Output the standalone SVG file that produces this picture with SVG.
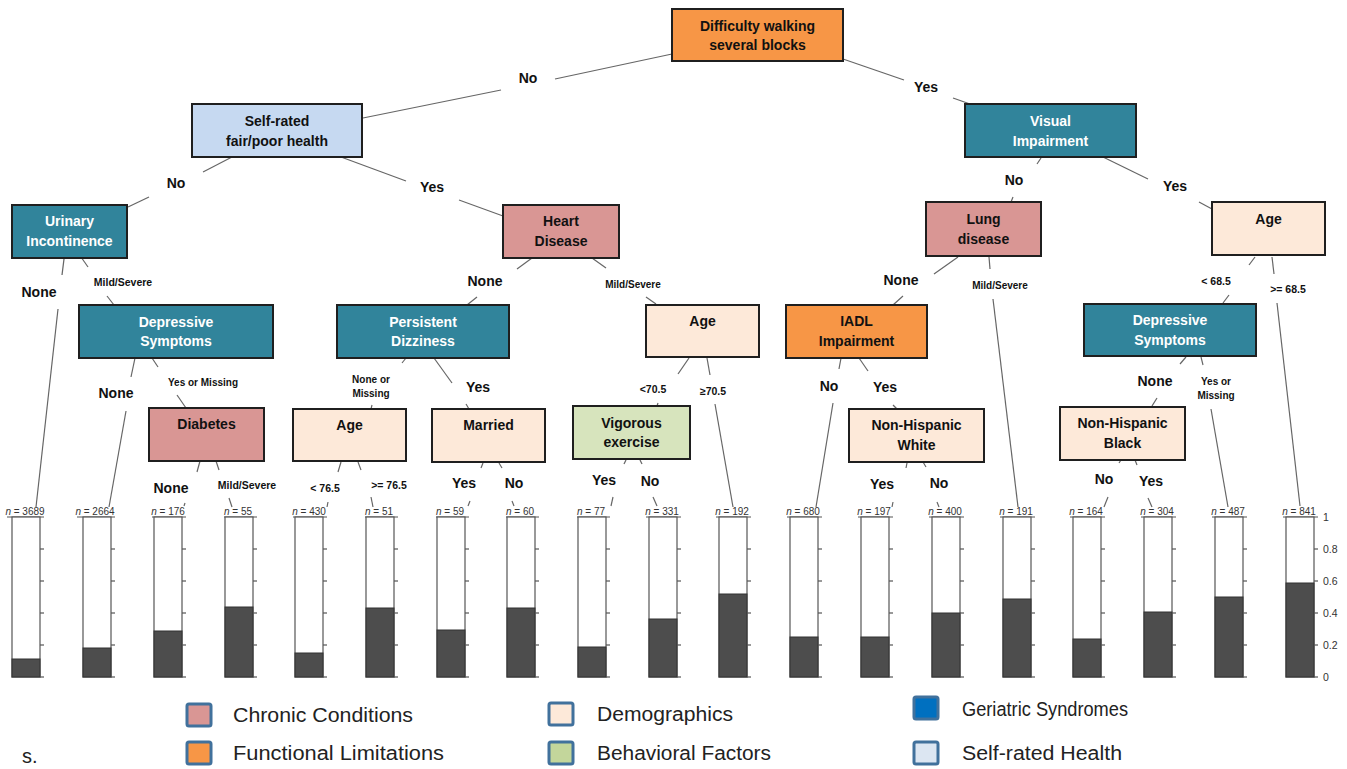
<svg xmlns="http://www.w3.org/2000/svg" width="1347" height="769" viewBox="0 0 1347 769">
<style>
.box{stroke:#1f1f1f;stroke-width:2}
.orange{fill:#F79646}.teal{fill:#31849B}.pink{fill:#D99694}.cream{fill:#FDE9D9}.sky{fill:#C6D9F1}.green{fill:#D7E4BD}
.nt{font-family:"Liberation Sans",Arial,sans-serif;font-weight:bold;font-size:14px;text-anchor:middle;fill:#111}
.wt{fill:#fff}
.el{font-family:"Liberation Sans",Arial,sans-serif;font-weight:bold;font-size:14px;text-anchor:middle;fill:#111}
.es{font-family:"Liberation Sans",Arial,sans-serif;font-weight:bold;font-size:10px;text-anchor:middle;fill:#111}
.em{font-family:"Liberation Sans",Arial,sans-serif;font-weight:bold;font-size:10.5px;text-anchor:middle;fill:#111}
.edge line{stroke:#666;stroke-width:1.2}
.nl{font-family:"Liberation Sans",Arial,sans-serif;font-size:10px;text-anchor:middle;fill:#333}
.bo{fill:#fff;stroke:#555;stroke-width:1.2}
.bd{fill:#4D4D4D;stroke:#333;stroke-width:1}
.tk{stroke:#555;stroke-width:1.2}
.ax{font-family:"Liberation Sans",Arial,sans-serif;font-size:10.5px;fill:#333}
.lg{stroke:#41719C;stroke-width:3}
.lt{font-family:"Liberation Sans",Arial,sans-serif;font-size:20px;fill:#222}
</style>

<g id="connectors" class="edge">
<line x1="672" y1="54" x2="555" y2="79"/><line x1="501" y1="90" x2="363" y2="118"/>
<line x1="843" y1="59" x2="904" y2="80"/><line x1="953" y1="98" x2="970" y2="104"/>
<line x1="232" y1="157" x2="203" y2="172"/><line x1="149" y1="197" x2="128" y2="207"/>
<line x1="341" y1="157" x2="406" y2="181"/><line x1="459" y1="200" x2="503" y2="216"/>
<line x1="1041" y1="158" x2="1037" y2="164"/><line x1="1013" y1="197" x2="1011" y2="202"/>
<line x1="1103" y1="157" x2="1148" y2="179"/><line x1="1199" y1="202" x2="1212" y2="209"/>
<line x1="64" y1="259" x2="62" y2="275"/><line x1="58" y1="309" x2="36" y2="507"/>
<line x1="81" y1="257" x2="88" y2="267"/><line x1="107" y1="296" x2="114" y2="305"/>
<line x1="135" y1="358" x2="131" y2="377"/><line x1="126" y1="411" x2="109" y2="507"/>
<line x1="152" y1="358" x2="158" y2="367"/><line x1="177" y1="395" x2="186" y2="408"/>
<line x1="200" y1="461" x2="197" y2="472"/><line x1="185" y1="503" x2="184" y2="506"/>
<line x1="216" y1="461" x2="219" y2="470"/><line x1="229" y1="498" x2="232" y2="507"/>
<line x1="406" y1="358" x2="402" y2="363"/><line x1="372" y1="405" x2="371" y2="409"/>
<line x1="434" y1="358" x2="452" y2="383"/><line x1="466" y1="404" x2="469" y2="409"/>
<line x1="341" y1="462" x2="338" y2="472"/><line x1="328" y1="502" x2="327" y2="507"/>
<line x1="358" y1="462" x2="361" y2="470"/><line x1="371" y1="497" x2="373" y2="507"/>
<line x1="532" y1="258" x2="517" y2="269"/><line x1="477" y1="297" x2="467" y2="305"/>
<line x1="592" y1="258" x2="606" y2="268"/><line x1="646" y1="297" x2="656" y2="304"/>
<line x1="483" y1="463" x2="481" y2="468"/><line x1="470" y1="501" x2="468" y2="506"/>
<line x1="499" y1="463" x2="502" y2="468"/><line x1="512" y1="501" x2="514" y2="506"/>
<line x1="689" y1="358" x2="678" y2="374"/><line x1="658" y1="403" x2="657" y2="406"/>
<line x1="707" y1="358" x2="710" y2="375"/><line x1="715" y1="404" x2="733" y2="507"/>
<line x1="626" y1="460" x2="624" y2="464"/><line x1="613" y1="497" x2="611" y2="506"/>
<line x1="640" y1="460" x2="642" y2="464"/><line x1="653" y1="497" x2="657" y2="506"/>
<line x1="958" y1="257" x2="934" y2="274"/><line x1="903" y1="296" x2="893" y2="305"/>
<line x1="989" y1="257" x2="990" y2="269"/><line x1="993" y1="299" x2="1018" y2="507"/>
<line x1="841" y1="358" x2="839" y2="369"/><line x1="833" y1="403" x2="816" y2="507"/>
<line x1="859" y1="358" x2="868" y2="371"/><line x1="893" y1="405" x2="897" y2="409"/>
<line x1="907" y1="463" x2="906" y2="468"/><line x1="893" y1="502" x2="892" y2="507"/>
<line x1="923" y1="462" x2="926" y2="467"/><line x1="937" y1="502" x2="939" y2="507"/>
<line x1="1255" y1="257" x2="1249" y2="265"/><line x1="1229" y1="295" x2="1223" y2="303"/>
<line x1="1272" y1="257" x2="1274" y2="274"/><line x1="1277" y1="303" x2="1300" y2="506"/>
<line x1="1186" y1="357" x2="1180" y2="364"/><line x1="1157" y1="398" x2="1152" y2="406"/>
<line x1="1201" y1="357" x2="1203" y2="365"/><line x1="1211" y1="409" x2="1228" y2="507"/>
<line x1="1121" y1="460" x2="1119" y2="463"/><line x1="1108" y1="497" x2="1104" y2="507"/>
<line x1="1135" y1="460" x2="1137" y2="465"/><line x1="1148" y1="498" x2="1152" y2="507"/>
</g>

<g id="edge-labels">
<text class="el" x="528" y="83">No</text>
<text class="el" x="926" y="92">Yes</text>
<text class="el" x="176" y="188">No</text>
<text class="el" x="432" y="192">Yes</text>
<text class="el" x="1014" y="185">No</text>
<text class="el" x="1175" y="191">Yes</text>
<text class="el" x="39" y="297">None</text>
<text class="em" x="123" y="286">Mild/Severe</text>
<text class="el" x="116" y="398">None</text>
<text class="es" x="203" y="386">Yes or Missing</text>
<text class="el" x="171" y="493">None</text>
<text class="em" x="247" y="489">Mild/Severe</text>
<text class="es" x="371" y="383">None or</text>
<text class="es" x="371" y="397">Missing</text>
<text class="el" x="478" y="392">Yes</text>
<text class="em" x="325" y="492">&lt; 76.5</text>
<text class="em" x="389" y="489">&gt;= 76.5</text>
<text class="el" x="485" y="286">None</text>
<text class="es" x="633" y="288">Mild/Severe</text>
<text class="el" x="464" y="488">Yes</text>
<text class="el" x="514" y="488">No</text>
<text class="em" x="653" y="393">&lt;70.5</text>
<text class="em" x="713" y="395">≥70.5</text>
<text class="el" x="604" y="485">Yes</text>
<text class="el" x="650" y="486">No</text>
<text class="el" x="901" y="285">None</text>
<text class="es" x="1000" y="289">Mild/Severe</text>
<text class="el" x="829" y="391">No</text>
<text class="el" x="885" y="392">Yes</text>
<text class="el" x="882" y="489">Yes</text>
<text class="el" x="939" y="488">No</text>
<text class="em" x="1216" y="285">&lt; 68.5</text>
<text class="em" x="1288" y="293">&gt;= 68.5</text>
<text class="el" x="1155" y="386">None</text>
<text class="es" x="1216" y="385">Yes or</text>
<text class="es" x="1216" y="399">Missing</text>
<text class="el" x="1104" y="484">No</text>
<text class="el" x="1151" y="486">Yes</text>
</g>

<g id="n-root"><rect class="box orange" x="672" y="9" width="171" height="52"/><text class="nt" x="757.5" y="31">Difficulty walking</text><text class="nt" x="757.5" y="50">several blocks</text></g>
<g id="n-selfrated"><rect class="box sky" x="192" y="104" width="170" height="53"/><text class="nt" x="277" y="125.5">Self-rated</text><text class="nt" x="277" y="145.5">fair/poor health</text></g>
<g id="n-visual"><rect class="box teal" x="965" y="104" width="171" height="53"/><text class="nt wt" x="1050.5" y="125.5">Visual</text><text class="nt wt" x="1050.5" y="145.5">Impairment</text></g>
<g id="n-urinary"><rect class="box teal" x="12" y="205" width="115" height="53"/><text class="nt wt" x="69.5" y="226">Urinary</text><text class="nt wt" x="69.5" y="246">Incontinence</text></g>
<g id="n-heart"><rect class="box pink" x="503" y="205" width="116" height="53"/><text class="nt" x="561" y="226">Heart</text><text class="nt" x="561" y="246">Disease</text></g>
<g id="n-lung"><rect class="box pink" x="926" y="202" width="115" height="54"/><text class="nt" x="983.5" y="224">Lung</text><text class="nt" x="983.5" y="244">disease</text></g>
<g id="n-age-right"><rect class="box cream" x="1212" y="202" width="113" height="53"/><text class="nt" x="1268.5" y="224">Age</text></g>
<g id="n-dep-left"><rect class="box teal" x="79" y="305" width="194" height="53"/><text class="nt wt" x="176" y="327">Depressive</text><text class="nt wt" x="176" y="346">Symptoms</text></g>
<g id="n-dizzy"><rect class="box teal" x="337" y="305" width="172" height="53"/><text class="nt wt" x="423" y="327">Persistent</text><text class="nt wt" x="423" y="346">Dizziness</text></g>
<g id="n-age-mid"><rect class="box cream" x="646" y="305" width="113" height="52"/><text class="nt" x="702.5" y="326">Age</text></g>
<g id="n-iadl"><rect class="box orange" x="786" y="305" width="141" height="53"/><text class="nt" x="856.5" y="326">IADL</text><text class="nt" x="856.5" y="346">Impairment</text></g>
<g id="n-dep-right"><rect class="box teal" x="1084" y="304" width="172" height="52"/><text class="nt wt" x="1170" y="325">Depressive</text><text class="nt wt" x="1170" y="345">Symptoms</text></g>
<g id="n-diabetes"><rect class="box pink" x="149" y="408" width="115" height="53"/><text class="nt" x="206.5" y="429">Diabetes</text></g>
<g id="n-age-left"><rect class="box cream" x="293" y="409" width="113" height="52"/><text class="nt" x="349.5" y="430">Age</text></g>
<g id="n-married"><rect class="box cream" x="432" y="409" width="113" height="53"/><text class="nt" x="488.5" y="430">Married</text></g>
<g id="n-vigorous"><rect class="box green" x="573" y="406" width="117" height="53"/><text class="nt" x="631.5" y="428">Vigorous</text><text class="nt" x="631.5" y="447">exercise</text></g>
<g id="n-nhw"><rect class="box cream" x="849" y="409" width="135" height="53"/><text class="nt" x="916.5" y="430">Non-Hispanic</text><text class="nt" x="916.5" y="450">White</text></g>
<g id="n-nhb"><rect class="box cream" x="1060" y="407" width="125" height="53"/><text class="nt" x="1122.5" y="428">Non-Hispanic</text><text class="nt" x="1122.5" y="448">Black</text></g>

<defs>
<g id="ticks" class="tk">
<line x1="28" y1="549" x2="32" y2="549"/><line x1="28" y1="581" x2="32" y2="581"/><line x1="28" y1="613" x2="32" y2="613"/><line x1="28" y1="645" x2="32" y2="645"/><line x1="28" y1="677" x2="32" y2="677"/>
</g>
</defs>

<g id="leaves">
<g id="leaf-1"><text class="nl" x="25" y="515"><tspan font-style="italic">n</tspan> = 3689</text><line class="tk" x1="7" y1="517" x2="44" y2="517"/><rect class="bo" x="12" y="517" width="28" height="160"/><rect class="bd" x="12" y="659" width="28" height="18"/><use href="#ticks" x="12"/></g>
<g id="leaf-2"><text class="nl" x="95" y="515"><tspan font-style="italic">n</tspan> = 2664</text><line class="tk" x1="77" y1="517" x2="115" y2="517"/><rect class="bo" x="83" y="517" width="28" height="160"/><rect class="bd" x="83" y="648" width="28" height="29"/><use href="#ticks" x="83"/></g>
<g id="leaf-3"><text class="nl" x="168" y="515"><tspan font-style="italic">n</tspan> = 176</text><line class="tk" x1="152" y1="517" x2="186" y2="517"/><rect class="bo" x="154" y="517" width="28" height="160"/><rect class="bd" x="154" y="631" width="28" height="46"/><use href="#ticks" x="154"/></g>
<g id="leaf-4"><text class="nl" x="238" y="515"><tspan font-style="italic">n</tspan> = 55</text><line class="tk" x1="224" y1="517" x2="257" y2="517"/><rect class="bo" x="225" y="517" width="28" height="160"/><rect class="bd" x="225" y="607" width="28" height="70"/><use href="#ticks" x="225"/></g>
<g id="leaf-5"><text class="nl" x="309" y="515"><tspan font-style="italic">n</tspan> = 430</text><line class="tk" x1="293" y1="517" x2="327" y2="517"/><rect class="bo" x="295" y="517" width="28" height="160"/><rect class="bd" x="295" y="653" width="28" height="24"/><use href="#ticks" x="295"/></g>
<g id="leaf-6"><text class="nl" x="379" y="515"><tspan font-style="italic">n</tspan> = 51</text><line class="tk" x1="365" y1="517" x2="398" y2="517"/><rect class="bo" x="366" y="517" width="28" height="160"/><rect class="bd" x="366" y="608" width="28" height="69"/><use href="#ticks" x="366"/></g>
<g id="leaf-7"><text class="nl" x="450" y="515"><tspan font-style="italic">n</tspan> = 59</text><line class="tk" x1="436" y1="517" x2="469" y2="517"/><rect class="bo" x="437" y="517" width="28" height="160"/><rect class="bd" x="437" y="630" width="28" height="47"/><use href="#ticks" x="437"/></g>
<g id="leaf-8"><text class="nl" x="520" y="515"><tspan font-style="italic">n</tspan> = 60</text><line class="tk" x1="506" y1="517" x2="539" y2="517"/><rect class="bo" x="507" y="517" width="28" height="160"/><rect class="bd" x="507" y="608" width="28" height="69"/><use href="#ticks" x="507"/></g>
<g id="leaf-9"><text class="nl" x="591" y="515"><tspan font-style="italic">n</tspan> = 77</text><line class="tk" x1="577" y1="517" x2="610" y2="517"/><rect class="bo" x="578" y="517" width="28" height="160"/><rect class="bd" x="578" y="647" width="28" height="30"/><use href="#ticks" x="578"/></g>
<g id="leaf-10"><text class="nl" x="662" y="515"><tspan font-style="italic">n</tspan> = 331</text><line class="tk" x1="646" y1="517" x2="681" y2="517"/><rect class="bo" x="649" y="517" width="28" height="160"/><rect class="bd" x="649" y="619" width="28" height="58"/><use href="#ticks" x="649"/></g>
<g id="leaf-11"><text class="nl" x="732" y="515"><tspan font-style="italic">n</tspan> = 192</text><line class="tk" x1="716" y1="517" x2="751" y2="517"/><rect class="bo" x="719" y="517" width="28" height="160"/><rect class="bd" x="719" y="594" width="28" height="83"/><use href="#ticks" x="719"/></g>
<g id="leaf-12"><text class="nl" x="803" y="515"><tspan font-style="italic">n</tspan> = 680</text><line class="tk" x1="787" y1="517" x2="822" y2="517"/><rect class="bo" x="790" y="517" width="28" height="160"/><rect class="bd" x="790" y="637" width="28" height="40"/><use href="#ticks" x="790"/></g>
<g id="leaf-13"><text class="nl" x="874" y="515"><tspan font-style="italic">n</tspan> = 197</text><line class="tk" x1="858" y1="517" x2="893" y2="517"/><rect class="bo" x="861" y="517" width="28" height="160"/><rect class="bd" x="861" y="637" width="28" height="40"/><use href="#ticks" x="861"/></g>
<g id="leaf-14"><text class="nl" x="945" y="515"><tspan font-style="italic">n</tspan> = 400</text><line class="tk" x1="929" y1="517" x2="964" y2="517"/><rect class="bo" x="932" y="517" width="28" height="160"/><rect class="bd" x="932" y="613" width="28" height="64"/><use href="#ticks" x="932"/></g>
<g id="leaf-15"><text class="nl" x="1016" y="515"><tspan font-style="italic">n</tspan> = 191</text><line class="tk" x1="1000" y1="517" x2="1035" y2="517"/><rect class="bo" x="1003" y="517" width="28" height="160"/><rect class="bd" x="1003" y="599" width="28" height="78"/><use href="#ticks" x="1003"/></g>
<g id="leaf-16"><text class="nl" x="1086" y="515"><tspan font-style="italic">n</tspan> = 164</text><line class="tk" x1="1070" y1="517" x2="1105" y2="517"/><rect class="bo" x="1073" y="517" width="28" height="160"/><rect class="bd" x="1073" y="639" width="28" height="38"/><use href="#ticks" x="1073"/></g>
<g id="leaf-17"><text class="nl" x="1157" y="515"><tspan font-style="italic">n</tspan> = 304</text><line class="tk" x1="1141" y1="517" x2="1176" y2="517"/><rect class="bo" x="1144" y="517" width="28" height="160"/><rect class="bd" x="1144" y="612" width="28" height="65"/><use href="#ticks" x="1144"/></g>
<g id="leaf-18"><text class="nl" x="1228" y="515"><tspan font-style="italic">n</tspan> = 487</text><line class="tk" x1="1212" y1="517" x2="1247" y2="517"/><rect class="bo" x="1215" y="517" width="28" height="160"/><rect class="bd" x="1215" y="597" width="28" height="80"/><use href="#ticks" x="1215"/></g>
<g id="leaf-19"><text class="nl" x="1299" y="515"><tspan font-style="italic">n</tspan> = 841</text><line class="tk" x1="1283" y1="517" x2="1318" y2="517"/><rect class="bo" x="1286" y="517" width="28" height="160"/><rect class="bd" x="1286" y="583" width="28" height="94"/><use href="#ticks" x="1286"/></g>
</g>

<g id="axis">
<text class="ax" x="1323" y="521">1</text>
<text class="ax" x="1323" y="553">0.8</text>
<text class="ax" x="1323" y="585">0.6</text>
<text class="ax" x="1323" y="617">0.4</text>
<text class="ax" x="1323" y="649">0.2</text>
<text class="ax" x="1323" y="681">0</text>
</g>

<g id="legend">
<rect class="lg" x="187" y="704" width="24" height="22" rx="2" fill="#D99694"/><text class="lt" x="233" y="722" textLength="180" lengthAdjust="spacingAndGlyphs">Chronic Conditions</text>
<rect class="lg" x="187" y="742" width="24" height="22" rx="2" fill="#F79646"/><text class="lt" x="233" y="760" textLength="211" lengthAdjust="spacingAndGlyphs">Functional Limitations</text>
<rect class="lg" x="549" y="703" width="24" height="22" rx="2" fill="#FDE9D9"/><text class="lt" x="597" y="721" textLength="136" lengthAdjust="spacingAndGlyphs">Demographics</text>
<rect class="lg" x="549" y="742" width="24" height="22" rx="2" fill="#C3D69B"/><text class="lt" x="597" y="760" textLength="174" lengthAdjust="spacingAndGlyphs">Behavioral Factors</text>
<rect class="lg" x="914" y="697" width="24" height="22" rx="2" fill="#0070C0"/><text class="lt" x="962" y="716" textLength="166" lengthAdjust="spacingAndGlyphs">Geriatric Syndromes</text>
<rect class="lg" x="914" y="742" width="24" height="22" rx="2" fill="#DCE6F2"/><text class="lt" x="962" y="760" textLength="160" lengthAdjust="spacingAndGlyphs">Self-rated Health</text>
</g>
<text class="lt" x="22" y="763" font-size="18">s.</text>
</svg>
